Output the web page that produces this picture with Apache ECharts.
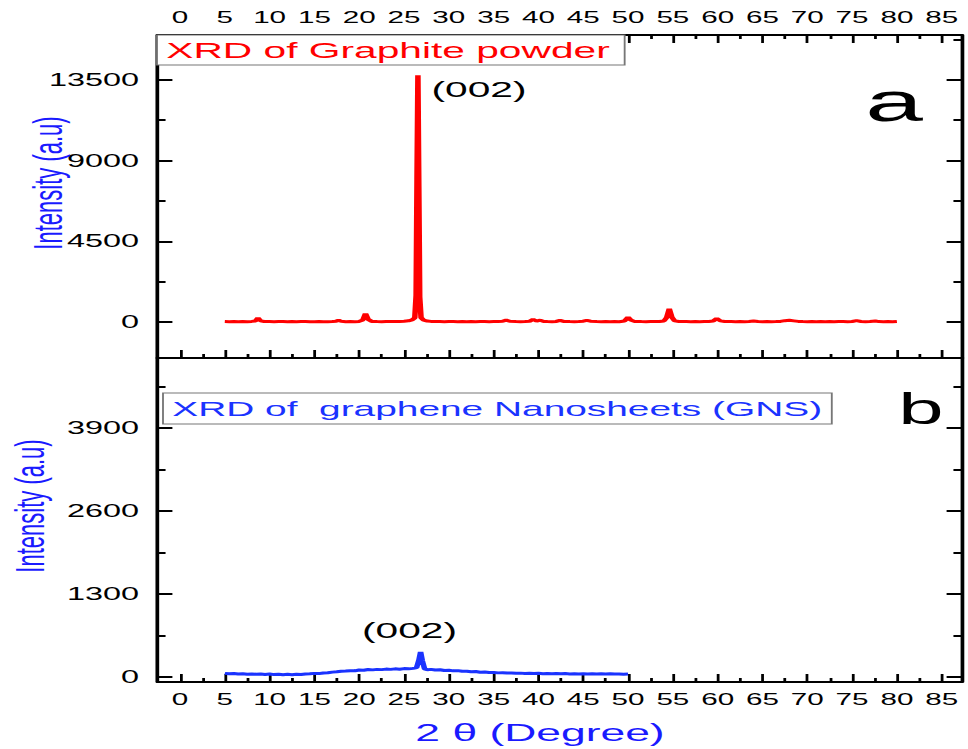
<!DOCTYPE html>
<html>
<head>
<meta charset="utf-8">
<script src="https://cdn.jsdelivr.net/npm/echarts@6/dist/echarts.min.js"></script>
<style>
  html, body { margin: 0; padding: 0; background: #fff; }
  #wrap { width: 968px; height: 749px; overflow: hidden; position: relative; background: #fff; }
  /* the figure is laid out narrow and stretched horizontally, like the printed plot */
  #chart { width: 523px; height: 749px; transform-origin: 0 0; }
</style>
</head>
<body>
<div id="wrap"><div id="chart"></div></div>
<script>
// 2θ (degree) vs intensity (a.u.) for graphite powder, [angle, counts]
const graphite = [
  [5.0,30],[5.5,25],[6.0,35],[6.5,20],[7.0,30],[7.5,25],[8.0,40],[8.4,60],[8.7,230],[9.0,70],[9.4,35],
  [10.0,30],[10.5,25],[11.0,35],[11.5,30],[12.0,20],[12.5,30],[13.0,25],[13.5,35],[14.0,30],[14.5,20],
  [15.0,25],[15.5,30],[16.0,20],[16.5,25],[17.0,30],[17.4,50],[17.7,110],[18.0,45],[18.5,25],[19.0,30],
  [19.5,25],[20.0,40],[20.4,120],[20.7,480],[21.0,150],[21.4,40],[22.0,30],[22.5,25],[23.0,35],[23.5,30],
  [24.0,35],[24.5,40],[25.0,50],[25.5,70],[25.9,120],[26.2,240],[26.35,1500],[26.45,8000],[26.55,13750],
  [26.65,7500],[26.75,1400],[26.9,250],[27.2,110],[27.6,60],[28.0,40],[28.5,35],[29.0,30],[29.5,25],
  [30.0,35],[30.5,30],[31.0,25],[31.5,30],[32.0,20],[32.5,30],[33.0,25],[33.5,35],[34.0,30],[34.5,25],
  [35.0,30],[35.5,35],[36.0,45],[36.4,110],[36.8,45],[37.5,30],[38.0,25],[38.5,30],[39.0,45],[39.4,150],
  [39.8,60],[40.2,110],[40.6,40],[41.0,30],[41.5,25],[42.0,40],[42.4,100],[42.8,40],[43.5,30],[44.0,25],
  [44.5,35],[45.0,50],[45.4,100],[45.8,50],[46.5,30],[47.0,25],[47.5,30],[48.0,20],[48.5,30],[49.0,25],
  [49.6,60],[50.0,280],[50.3,120],[50.7,40],[51.5,30],[52.0,25],[52.5,35],[53.0,30],[53.5,35],[54.0,60],
  [54.3,250],[54.6,740],[54.9,260],[55.2,70],[55.7,35],[56.5,30],[57.0,25],[57.5,30],[58.0,20],[58.5,30],
  [59.0,35],[59.5,60],[59.9,200],[60.3,70],[60.8,35],[61.5,30],[62.0,25],[62.5,30],[63.0,25],[63.5,35],
  [64.0,60],[64.5,30],[65.0,25],[65.5,30],[66.0,25],[66.5,30],[67.0,40],[67.5,80],[68.0,100],[68.5,70],
  [69.0,40],[69.5,30],[70.0,25],[70.5,30],[71.0,20],[71.5,30],[72.0,25],[72.5,30],[73.0,25],[73.5,35],
  [74.0,30],[74.5,25],[75.0,35],[75.5,80],[76.0,35],[76.5,25],[77.0,30],[77.6,60],[78.0,30],[78.5,25],
  [79.0,30],[79.5,25],[80.0,35]
];

// 2θ (degree) vs intensity (a.u.) for graphene nanosheets
const gns = [
  [5.0,55],[5.5,48],[6.0,52],[6.5,45],[7.0,50],[7.5,42],[8.0,47],[8.5,40],[9.0,45],[9.5,38],
  [10.0,44],[10.5,36],[11.0,42],[11.5,35],[12.0,40],[12.5,34],[13.0,41],[13.5,37],[14.0,44],[14.5,48],
  [15.0,55],[15.5,52],[16.0,62],[16.5,66],[17.0,75],[17.5,80],[18.0,88],[18.5,92],[19.0,98],[19.5,95],
  [20.0,108],[20.5,104],[21.0,115],[21.5,110],[22.0,118],[22.5,114],[23.0,122],[23.5,118],[24.0,126],
  [24.5,121],[25.0,130],[25.5,126],[26.0,134],[26.4,145],[26.65,260],[26.85,390],[27.05,250],[27.3,125],
  [27.6,112],[28.0,118],[28.5,108],[29.0,112],[29.5,100],[30.0,104],[30.5,95],[31.0,98],[31.5,88],
  [32.0,90],[32.5,82],[33.0,84],[33.5,74],[34.0,76],[34.5,68],[35.0,70],[35.5,63],[36.0,66],[36.5,60],
  [37.0,62],[37.5,56],[38.0,59],[38.5,54],[39.0,58],[39.5,52],[40.0,56],[40.5,50],[41.0,54],[41.5,49],
  [42.0,53],[42.5,48],[43.0,52],[43.5,47],[44.0,51],[44.5,46],[45.0,50],[45.5,45],[46.0,49],[46.5,44],
  [47.0,48],[47.5,45],[48.0,49],[48.5,44],[49.0,47],[49.5,43],[50.0,46]
];

// tick values
const thetaMajor = [0,5,10,15,20,25,30,35,40,45,50,55,60,65,70,75,80,85];
const thetaMinor = [2.5,7.5,12.5,17.5,22.5,27.5,32.5,37.5,42.5,47.5,52.5,57.5,62.5,67.5,72.5,77.5,82.5];
const graphiteMajor = [0,4500,9000,13500];
const graphiteMinor = [2250,6750,11250,15750];
const gnsMajor = [0,1300,2600,3900];
const gnsMinor = [650,1950,3250,4550];

const seriesNames = ['XRD of Graphite powder', 'XRD of  graphene Nanosheets (GNS)'];

const W = 523;
const S = 968 / W;
document.getElementById('chart').style.transform = 'scaleX(' + S + ')';

const FONT = '"Liberation Sans", Arial, Helvetica, sans-serif';
const RED = '#ff0000';
const BLUE = '#1a33ff';
const NAMEBLUE = '#1a1aff';

const gLeft = 157.6 / S;
const gWidth = 803.8 / S;

const plain = v => String(v);

function xAxisDef(grid, pos, ticks, len, labels, line) {
  return {
    type: 'value', gridIndex: grid, position: pos, min: -2.5, max: 87.2,
    axisLine: { show: line, onZero: false, lineStyle: { color: '#000', width: 2 } },
    axisTick: { show: true, inside: true, length: len, customValues: ticks,
                lineStyle: { color: '#000', width: 1.5 } },
    axisLabel: labels ? { show: true, customValues: ticks, margin: pos === 'top' ? 10 : 9,
                          formatter: plain, fontSize: 16, color: '#000', fontFamily: FONT }
                      : { show: false },
    splitLine: { show: false }
  };
}

function yAxisDef(grid, pos, min, max, ticks, len, labels, line) {
  return {
    type: 'value', gridIndex: grid, position: pos, min: min, max: max,
    axisLine: { show: line, onZero: false, lineStyle: { color: '#000', width: 2 } },
    axisTick: { show: true, inside: true, length: len, customValues: ticks,
                lineStyle: { color: '#000', width: 2 } },
    axisLabel: labels ? { show: true, customValues: ticks, margin: 10, formatter: plain,
                          fontSize: 17.5, color: '#000', fontFamily: FONT }
                      : { show: false },
    splitLine: { show: false }
  };
}

const chart = echarts.init(document.getElementById('chart'), null, { renderer: 'svg' });

chart.setOption({
  animation: false,
  backgroundColor: '#fff',
  grid: [
    { left: gLeft, width: gWidth, top: 35, height: 323 },
    { left: gLeft, width: gWidth, top: 358, height: 324 }
  ],
  xAxis: [
    xAxisDef(0, 'top', thetaMajor, 8, true, true),
    xAxisDef(0, 'top', thetaMinor, 4, false, false),
    xAxisDef(0, 'bottom', thetaMajor, 8, false, true),
    xAxisDef(0, 'bottom', thetaMinor, 4, false, false),
    xAxisDef(1, 'bottom', thetaMajor, 8, true, true),
    xAxisDef(1, 'bottom', thetaMinor, 4, false, false)
  ],
  yAxis: [
    yAxisDef(0, 'left', -2000, 16000, graphiteMajor, 8, true, true),
    yAxisDef(0, 'left', -2000, 16000, graphiteMinor, 4.3, false, false),
    yAxisDef(0, 'right', -2000, 16000, graphiteMajor, 8, false, true),
    yAxisDef(0, 'right', -2000, 16000, graphiteMinor, 4.3, false, false),
    yAxisDef(1, 'left', -80, 5000, gnsMajor, 8, true, true),
    yAxisDef(1, 'left', -80, 5000, gnsMinor, 4.3, false, false),
    yAxisDef(1, 'right', -80, 5000, gnsMajor, 8, false, true),
    yAxisDef(1, 'right', -80, 5000, gnsMinor, 4.3, false, false)
  ],
  legend: [
    {
      data: [seriesNames[0]], left: 157 / S, top: 35,
      icon: 'rect', itemWidth: 0, itemHeight: 0, itemGap: 0,
      padding: [4, 8, 4, 0], backgroundColor: '#fff', borderColor: '#777', borderWidth: 1,
      selectedMode: false,
      textStyle: { color: RED, fontSize: 22, fontFamily: FONT }
    },
    {
      data: [seriesNames[1]], left: 163 / S, top: 393,
      icon: 'rect', itemWidth: 0, itemHeight: 0, itemGap: 0,
      padding: [5, 5, 5, 0], backgroundColor: '#fff', borderColor: '#777', borderWidth: 1,
      selectedMode: false,
      textStyle: { color: BLUE, fontSize: 21, fontFamily: FONT }
    }
  ],
  series: [
    {
      name: seriesNames[0], type: 'line', xAxisIndex: 0, yAxisIndex: 0,
      data: graphite, showSymbol: false, symbol: 'none',
      lineStyle: { color: RED, width: 3 }, itemStyle: { color: RED },
      markPoint: {
        symbol: 'circle', symbolSize: 0, itemStyle: { color: 'transparent' },
        data: [{ type: 'max' }],
        label: { show: true, position: 'inside', offset: [33, 14], formatter: '(002)',
                 fontSize: 22, color: '#000', fontFamily: FONT }
      }
    },
    {
      name: seriesNames[1], type: 'line', xAxisIndex: 4, yAxisIndex: 4,
      data: gns, showSymbol: false, symbol: 'none',
      lineStyle: { color: BLUE, width: 3 }, itemStyle: { color: BLUE },
      markPoint: {
        symbol: 'circle', symbolSize: 0, itemStyle: { color: 'transparent' },
        data: [{ type: 'max' }],
        label: { show: true, position: 'inside', offset: [-6, -22], formatter: '(002)',
                 fontSize: 22, color: '#000', fontFamily: FONT }
      }
    }
  ],
  graphic: [
    { type: 'text', x: 894 / S, y: 102, z: 10,
      style: { text: 'a', font: '56px ' + FONT, fill: '#000', textAlign: 'center', textVerticalAlign: 'middle' } },
    { type: 'text', x: 921 / S, y: 409, z: 10,
      style: { text: 'b', font: '44px ' + FONT, fill: '#000', textAlign: 'center', textVerticalAlign: 'middle' } },
    { type: 'text', x: 48 / S, y: 183, rotation: Math.PI / 2, z: 10,
      style: { text: 'Intensity (a.u)', font: '22px ' + FONT, fill: NAMEBLUE, textAlign: 'center', textVerticalAlign: 'middle' } },
    { type: 'text', x: 30 / S, y: 506, rotation: Math.PI / 2, z: 10,
      style: { text: 'Intensity (a.u)', font: '22px ' + FONT, fill: NAMEBLUE, textAlign: 'center', textVerticalAlign: 'middle' } },
    { type: 'text', x: 540 / S, y: 733, z: 10,
      style: { text: '2 θ (Degree)', font: '24px ' + FONT, fill: NAMEBLUE, textAlign: 'center', textVerticalAlign: 'middle' } }
  ]
});
</script>
</body>
</html>
